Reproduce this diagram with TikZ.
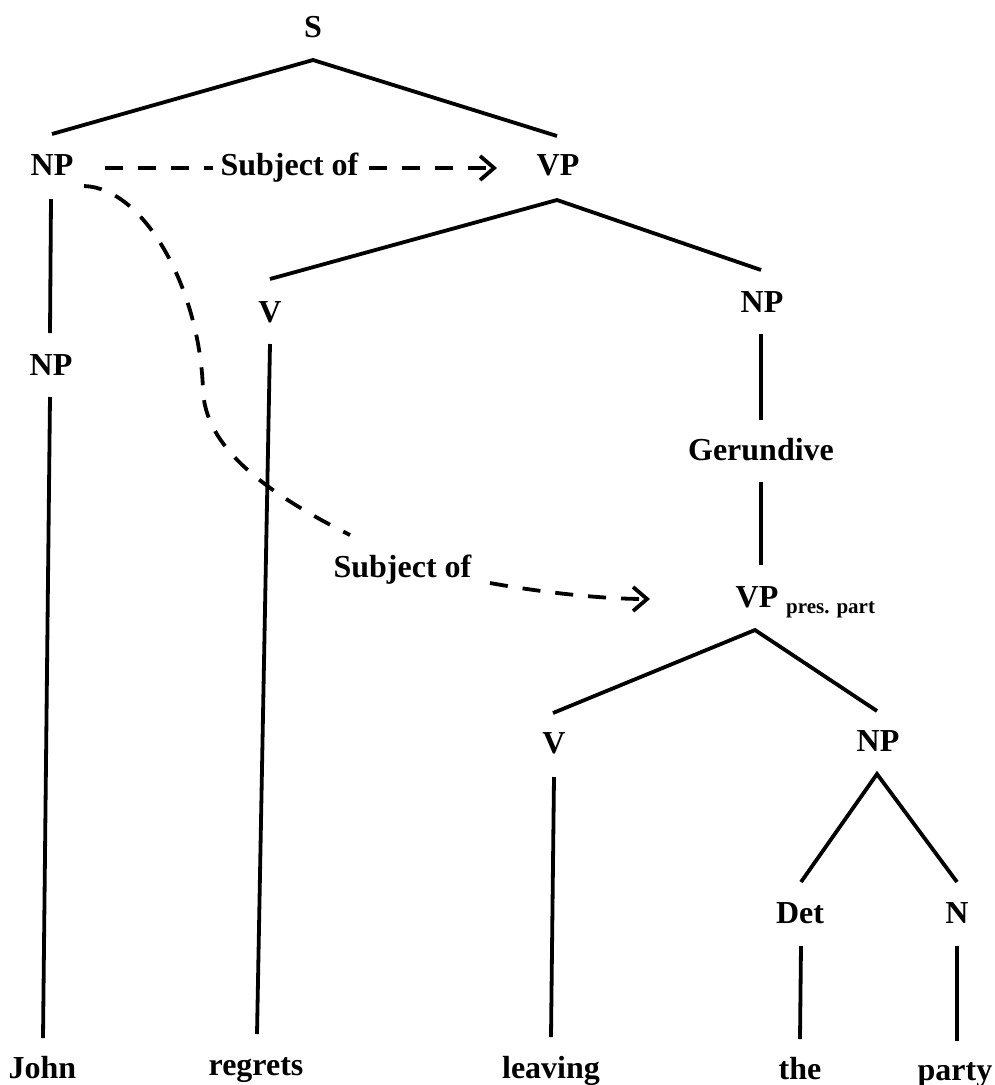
\documentclass[tikz,border=0pt]{standalone}
\usepackage{fontspec}
\setmainfont{Liberation Serif}
\usetikzlibrary{calc,arrows.meta}
\begin{document}
\begin{tikzpicture}[x=1pt,y=-1pt,
  lbl/.style={font=\fontsize{32}{38}\selectfont\bfseries, inner sep=0pt, anchor=base},
  sublbl/.style={font=\fontsize{21}{25}\selectfont\bfseries, inner sep=0pt, anchor=base west},
  edge/.style={line width=3.8pt},
  rel/.style={line width=3.8pt, dash pattern=on 18pt off 15pt},
  arr/.style={-{Straight Barb[length=14pt,width=24pt]}}
]
\useasboundingbox (0,0) rectangle (995,1085);
% nodes
\node[lbl] (s)   at (313,37)  {S};
\node[lbl] (npa) at (52,175)  {NP};
\node[lbl] (vpa) at (558,175) {VP};
\node[lbl] (v1)  at (270,322) {V};
\node[lbl] (npb) at (762,312) {NP};
\node[lbl] (npc) at (51,375)  {NP};
\node[lbl] (ger) at (761,460) {Gerundive};
\node[lbl] (vpp) at (757,607) {VP};
\node[sublbl] (vpps) at (786,613) {pres. part};
\node[lbl] (v2)  at (554,753) {V};
\node[lbl] (npd) at (878,751) {NP};
\node[lbl] (det) at (800,923) {Det};
\node[lbl] (n)   at (957,923) {N};
\node[lbl] (john)    at (42.5,1078) {John};
\node[lbl] (regrets) at (256,1075)  {regrets};
\node[lbl] (leaving) at (551,1078)  {leaving};
\node[lbl] (the)     at (800,1079)  {the};
\node[lbl] (party)   at (955,1080)  {party};
% tree edges
\draw[edge] ($(npa.base)+(0,-41)$) -- ($(s.base)+(0,23)$) -- ($(vpa.base)+(-1,-39)$);
\draw[edge] ($(npa.base)+(-1,24)$) -- ($(npc.base)+(-1,-42)$);
\draw[edge] ($(npc.base)+(-1,22)$) -- ($(john.base)+(0.5,-40)$);
\draw[edge] ($(v1.base)+(0,-43)$) -- ($(vpa.base)+(-1,25)$) -- ($(npb.base)+(-1,-42)$);
\draw[edge] ($(v1.base)+(0,22)$) -- ($(regrets.base)+(1,-41)$);
\draw[edge] ($(npb.base)+(-1,22)$) -- ($(ger.base)+(0,-40)$);
\draw[edge] ($(ger.base)+(0,22)$) -- ($(vpp.base)+(4,-42)$);
\draw[edge] ($(v2.base)+(-1,-40)$) -- ($(vpp.base)+(-2,23)$) -- ($(npd.base)+(-1,-40)$);
\draw[edge] ($(v2.base)+(0,24)$) -- ($(leaving.base)+(0,-41)$);
\draw[edge] ($(det.base)+(1,-41)$) -- ($(npd.base)+(-1,23)$) -- ($(n.base)+(0,-41)$);
\draw[edge] ($(det.base)+(1,23)$) -- ($(the.base)+(0,-40)$);
\draw[edge] ($(n.base)+(0,23)$) -- ($(party.base)+(2,-39)$);
% relation arrows
\draw[rel,arr] ($(npa.base)+(53,-7)$) -- ($(vpa.base)+(-61,-7)$);
\node[lbl, fill=white, inner xsep=8pt, inner ysep=0pt] (subj1) at (289.5,175) {Subject of};
\coordinate (c1) at (350,535);
\coordinate (c2) at (490,583);
\draw[rel] ($(npa.base)+(32,11)$) .. controls (145,188) and (200,290) .. (203,390)
   .. controls (205,440) and (250,485) .. (c1);
\node[lbl] (subj2) at (402.5,577) {Subject of};
\draw[rel,arr] (c2) .. controls (540,592) and (600,599) .. ($(vpp.base)+(-107,-8)$);
\end{tikzpicture}
\end{document}
